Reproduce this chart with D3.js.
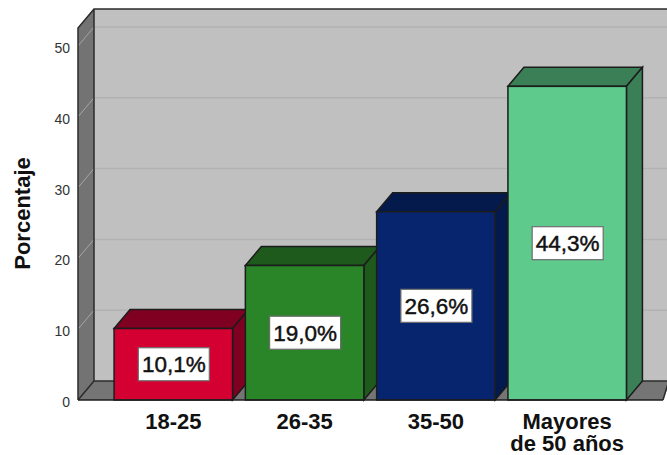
<!DOCTYPE html>
<html><head><meta charset="utf-8">
<script src="https://cdn.jsdelivr.net/npm/d3@7"></script>
<style>html,body{margin:0;padding:0;background:#fff}svg{display:block}text{font-family:"Liberation Sans",Arial,sans-serif}</style>
</head><body><svg id="c" width="667" height="455"></svg>
<script>
const categories = ["18-25","26-35","35-50","Mayores de 50 años"];
const values = [10.1,19.0,26.6,44.3];
const valueLabels = ["10,1%","19,0%","26,6%","44,3%"];
const frontColors = ["#d50032","#2a8529","#07256f","#5ecb8d"];
const topColors = ["#7f0020","#1d5a1c","#041a4c","#3a7f56"];
const yTicks = [0,10,20,30,40,50];
const yTitle = "Porcentaje";

const svg = d3.select("#c");
const W = 667;
const dx = 16, dy = -19;
const x0 = 78, floorY = 400;
const y = d3.scaleLinear().domain([0,50]).range([floorY,46]);
const x = d3.scaleBand().domain(categories).range([107.5,633]).paddingInner(0.0975).paddingOuter(0.05);
const topY = 28;
const line = "#1c1c1c";

svg.append("path").attr("d",`M${x0},${topY}L${x0+dx},${topY+dy}V${floorY+dy}L${x0},${floorY}Z`).attr("fill","#737373");
svg.append("rect").attr("x",x0+dx).attr("y",topY+dy).attr("width",W-x0-dx+2).attr("height",floorY-topY).attr("fill","#c0c0c0");
svg.append("path").attr("d",`M${x0},${floorY}L${x0+dx},${floorY+dy}H${W+3}L663,${floorY}Z`).attr("fill","#757575");
const grid = svg.append("g");
grid.selectAll("line.b").data(yTicks.slice(1)).join("line").attr("class","b")
  .attr("x1",x0+dx).attr("x2",W).attr("y1",d=>y(d)+dy).attr("y2",d=>y(d)+dy)
  .attr("stroke","#b2b2b2").attr("stroke-width",1.5);
grid.selectAll("line.s").data(yTicks.slice(1)).join("line").attr("class","s")
  .attr("x1",x0).attr("x2",x0+dx).attr("y1",d=>y(d)).attr("y2",d=>y(d)+dy)
  .attr("stroke","#a6a6a6").attr("stroke-width",1);
const edges = `M${x0},${floorY}V${topY}L${x0+dx},${topY+dy}H${W+2}M${x0+dx},${topY+dy}V${floorY+dy}H${W+2}M${x0},${floorY}L${x0+dx},${floorY+dy}M663,${floorY}L${W+3},${floorY+dy-4}`;
svg.append("path").attr("d",edges).attr("fill","none").attr("stroke","#2b2b2b").attr("stroke-width",1.5);

const bars = svg.append("g").selectAll("g").data(categories).join("g");
const bw = x.bandwidth();
bars.append("path").attr("d",(c,i)=>{const X=x(c),Y=y(values[i]);return `M${X},${Y}L${X+dx},${Y+dy}H${X+bw+dx}L${X+bw},${Y}Z`})
  .attr("fill",(c,i)=>topColors[i]).attr("stroke",line).attr("stroke-width",1.5);
bars.append("path").attr("d",(c,i)=>{const X=x(c)+bw,Y=y(values[i]);return `M${X},${Y}L${X+dx},${Y+dy}V${floorY+dy}L${X},${floorY}Z`})
  .attr("fill",(c,i)=>topColors[i]).attr("stroke",line).attr("stroke-width",1.5);
bars.append("rect").attr("x",c=>x(c)).attr("y",(c,i)=>y(values[i])).attr("width",bw).attr("height",(c,i)=>floorY-y(values[i]))
  .attr("fill",(c,i)=>frontColors[i]).attr("stroke",line).attr("stroke-width",1.5);
bars.append("rect").attr("x",c=>x(c)+bw/2-35).attr("width",71).attr("height",33)
  .attr("y",(c,i)=>(y(values[i])+floorY)/2-16.5).attr("fill","#fff").attr("stroke","#6e6e6e").attr("stroke-width",1.2);
bars.append("text").attr("x",c=>x(c)+bw/2+0.5).attr("y",(c,i)=>(y(values[i])+floorY)/2+8)
  .attr("text-anchor","middle").attr("font-size",22.5).attr("fill","#111").attr("stroke","#111").attr("stroke-width",0.45).text((c,i)=>valueLabels[i]);
svg.append("line").attr("x1",x0).attr("x2",663).attr("y1",floorY).attr("y2",floorY).attr("stroke","#1c1c1c").attr("stroke-width",1.6);

const ya = svg.append("g").attr("transform",`translate(${x0},2)`).call(d3.axisLeft(y).tickValues(yTicks).tickSize(0).tickPadding(8));
ya.select(".domain").remove();
ya.selectAll("text").attr("font-size",14).attr("fill","#333").style("font-family",'"Liberation Sans",Arial,sans-serif');
svg.append("text").attr("transform","translate(30,213.5) rotate(-90)").attr("text-anchor","middle")
  .attr("font-size",22).attr("font-weight","bold").attr("fill","#111").text(yTitle);

const xa = svg.append("g").attr("transform",`translate(0,${floorY})`).call(d3.axisBottom(x).tickSize(0).tickFormat(""));
xa.select(".domain").remove();
xa.selectAll(".tick").each(function(c,i){
  const t = d3.select(this).select("text").text(null).attr("y",null).attr("dy",null)
    .attr("font-size",22).attr("font-weight","bold").attr("fill","#111").attr("text-anchor","middle")
    .style("font-family",'"Liberation Sans",Arial,sans-serif');
  const parts = c.length>8 ? ["Mayores","de 50 años"] : [c];
  parts.forEach((p,k)=>t.append("tspan").attr("x",0).attr("y",28.5+k*22).text(p));
});
</script></body></html>
